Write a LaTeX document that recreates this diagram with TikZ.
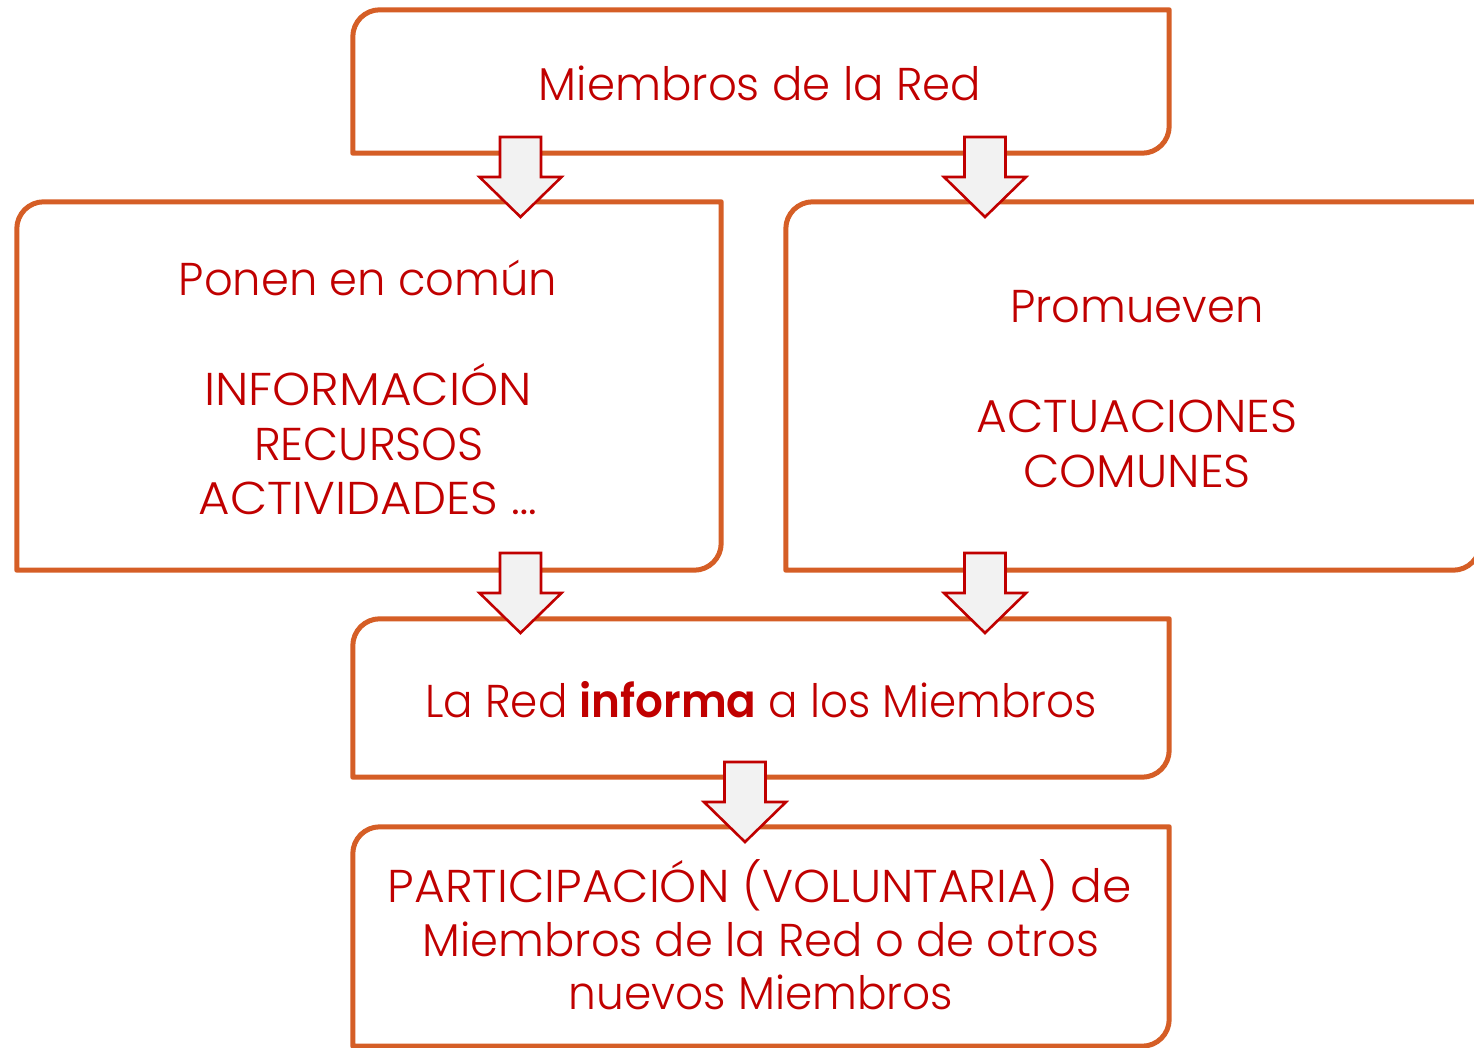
\documentclass[tikz,border=0pt]{standalone}
\usepackage{fontspec}
\setmainfont{Poppins}[UprightFont=* Light,BoldFont=* SemiBold]
\definecolor{boxorange}{HTML}{D55E26}
\definecolor{txtred}{HTML}{C00000}
\definecolor{arrowfill}{HTML}{F2F2F2}
\tikzset{
  boxarea/.style={draw=none,inner sep=0pt,minimum width=#1},
  boxline/.style={draw=boxorange,line width=5pt,line join=round},
  txt/.style={text=txtred,inner sep=0pt,anchor=base,font=\fontsize{46}{54}\selectfont},
  narrow/.style={font=\fontsize{46}{54}\selectfont\addfontfeatures{FakeStretch=#1}},
  blockarrow/.style={draw=txtred,fill=arrowfill,line width=2.6pt,line join=miter}
}
\newcommand\diagbox[1]{%
  \draw[boxline] (#1.south west) -- ([yshift=-27pt]#1.north west)
    to[out=90,in=180] ([xshift=27pt]#1.north west) -- (#1.north east)
    -- ([yshift=27pt]#1.south east) to[out=-90,in=0] ([xshift=-27pt]#1.south east)
    -- cycle;}
\newcommand\blockdown[1]{%
  \draw[blockarrow] ([xshift=-20.5pt]#1) -- ([xshift=20.5pt]#1)
    -- ([xshift=20.5pt,yshift=-40pt]#1) -- ([xshift=41pt,yshift=-40pt]#1)
    -- ([yshift=-80pt]#1) -- ([xshift=-41pt,yshift=-40pt]#1)
    -- ([xshift=-20.5pt,yshift=-40pt]#1) -- cycle;}
\begin{document}
\begin{tikzpicture}[x=1pt,y=1pt]
\useasboundingbox (0,0) rectangle (1474,-1048);
% boxes
\node[boxarea=816pt,minimum height=143pt] (b1) at (761,-81.5) {};
\node[boxarea=704pt,minimum height=368pt] (b2) at (369,-386) {};
\node[boxarea=694pt,minimum height=368pt] (b3) at (1133,-386) {};
\node[boxarea=816pt,minimum height=158pt] (b4) at (761,-698) {};
\node[boxarea=816pt,minimum height=219pt] (b5) at (761,-936.5) {};
\diagbox{b1}
\diagbox{b2}
\diagbox{b3}
\diagbox{b4}
\diagbox{b5}
% texts
\node[txt,narrow=0.98] (t1) at (760,-101) {Miembros de la Red};
\node[txt,narrow=0.975] (t2a) at (368,-296) {Ponen en común};
\node[txt,narrow=1.056] (t2b) at (368,-405) {INFORMACIÓN};
\node[txt,narrow=0.99] (t2c) at (369,-460) {RECURSOS};
\node[txt,narrow=1.05] (t2d) at (368,-514) {ACTIVIDADES …};
\node[txt,narrow=0.975] (t3a) at (1137,-323) {Promueven};
\node[txt,narrow=1.026] (t3b) at (1137,-432) {ACTUACIONES};
\node[txt,narrow=1.027] (t3c) at (1137,-487) {COMUNES};
\node[txt,narrow=0.95] (t4) at (761,-717) {La Red \textbf{informa} a los Miembros};
\node[txt,narrow=1.025] (t5a) at (760,-902) {PARTICIPACIÓN (VOLUNTARIA) de};
\node[txt,narrow=0.975] (t5b) at (761,-956) {Miembros de la Red o de otros};
\node[txt,narrow=0.953] (t5c) at (761,-1009) {nuevos Miembros};
% arrows
\coordinate (a1) at (520.5,-137);
\coordinate (a2) at (985,-137);
\coordinate (a3) at (520.5,-553);
\coordinate (a4) at (985,-553);
\coordinate (a5) at (745,-762);
\blockdown{a1}
\blockdown{a2}
\blockdown{a3}
\blockdown{a4}
\blockdown{a5}
\end{tikzpicture}
\end{document}
